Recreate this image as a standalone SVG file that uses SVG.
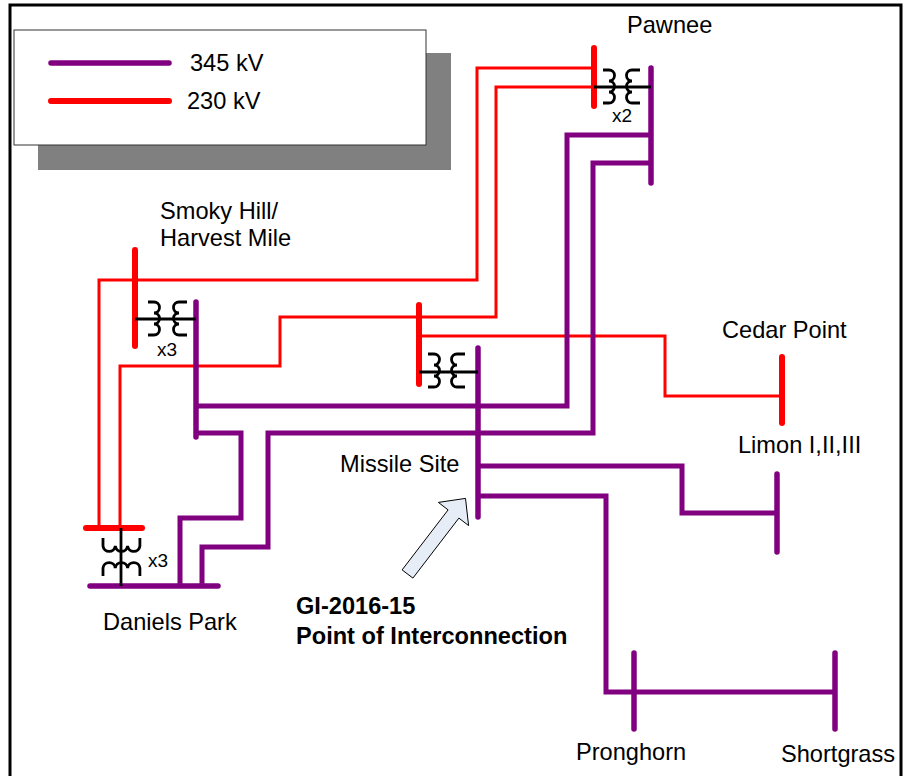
<svg xmlns="http://www.w3.org/2000/svg" width="903" height="776" viewBox="0 0 903 776">
<style>
text{font-family:"Liberation Sans",Arial,sans-serif;font-size:23.6px;fill:#000}
.b{font-weight:bold}
.sm{font-size:19px}
.p{fill:none;stroke:#800080;stroke-width:5;stroke-linejoin:miter}
.pb{fill:none;stroke:#800080;stroke-width:5.5;stroke-linecap:round}
.r{fill:none;stroke:#ff0000;stroke-width:3}
.rb{fill:none;stroke:#ff0000;stroke-width:6;stroke-linecap:round}
.k{fill:none;stroke:#000;stroke-width:2.8}
</style>
<rect x="0" y="0" width="903" height="776" fill="#fff"/>
<rect x="10" y="5" width="891" height="790" fill="none" stroke="#000" stroke-width="3"/>
<g id="legend">
<rect x="38" y="53" width="413" height="117" fill="#808080"/>
<rect x="14" y="30" width="412" height="115" fill="#fff" stroke="#333" stroke-width="1"/>
<line x1="51" y1="63" x2="169" y2="63" class="pb"/>
<line x1="51" y1="101" x2="169" y2="101" class="rb"/>
<text x="190" y="71">345 kV</text>
<text x="187" y="109">230 kV</text>
</g>
<g id="connectors">
<polyline class="r" points="594,68 477,68 477,280 99,280 99,528"/>
<polyline class="r" points="594,87 496,87 496,317 280,317 280,366 120,366 120,528"/>
<polyline class="r" points="420,336 665,336 665,396 782,396"/>
<polyline class="p" points="651,135 567,135 567,406 196,406"/>
<polyline class="p" points="651,163 593,163 593,433 268,433 268,547 202,547 202,586"/>
<polyline class="p" points="196,433 241,433 241,518 180,518 180,586"/>
<polyline class="p" points="478,466 682,466 682,513 777,513"/>
<polyline class="p" points="478,496 606,496 606,692 835,692"/>
</g>
<g id="pawnee">
<line x1="594" y1="48" x2="594" y2="106" class="rb"/>
<line x1="651" y1="68" x2="651" y2="183" class="pb"/>
<line x1="594" y1="87" x2="651" y2="87" class="k"/>
<path class="k" d="M603,70 h6 a5.5,5.5 0 0 1 0,11 a5.5,5.5 0 0 1 0,11 a5.5,5.5 0 0 1 0,11 h-6"/>
<path class="k" d="M640,70 h-8 a5.5,5.5 0 0 0 0,11 a5.5,5.5 0 0 0 0,11 a5.5,5.5 0 0 0 0,11 h8"/>
<text x="612" y="122" class="sm">x2</text>
<text x="627" y="33">Pawnee</text>
</g>
<g id="smoky-hill">
<line x1="135" y1="250" x2="135" y2="346" class="rb"/>
<line x1="196" y1="302" x2="196" y2="437" class="pb"/>
<line x1="135" y1="319" x2="196" y2="319" class="k"/>
<path class="k" d="M148,302 h6 a5.5,5.5 0 0 1 0,11 a5.5,5.5 0 0 1 0,11 a5.5,5.5 0 0 1 0,11 h-6"/>
<path class="k" d="M187,302 h-8 a5.5,5.5 0 0 0 0,11 a5.5,5.5 0 0 0 0,11 a5.5,5.5 0 0 0 0,11 h8"/>
<text x="157" y="356" class="sm">x3</text>
<text x="160" y="219">Smoky Hill/</text>
<text x="160" y="246">Harvest Mile</text>
</g>
<g id="missile-site">
<line x1="419" y1="305" x2="419" y2="384" class="rb"/>
<line x1="478" y1="348" x2="478" y2="517" class="pb"/>
<line x1="419" y1="372" x2="478" y2="372" class="k"/>
<path class="k" d="M428,354 h6 a5.5,5.5 0 0 1 0,11 a5.5,5.5 0 0 1 0,11 a5.5,5.5 0 0 1 0,11 h-6"/>
<path class="k" d="M465,354 h-8 a5.5,5.5 0 0 0 0,11 a5.5,5.5 0 0 0 0,11 a5.5,5.5 0 0 0 0,11 h8"/>
<text x="340" y="472">Missile Site</text>
</g>
<g id="daniels-park">
<line x1="86" y1="528" x2="142" y2="528" class="rb"/>
<line x1="90" y1="586" x2="218" y2="586" class="pb"/>
<line x1="121" y1="528" x2="121" y2="586" class="k"/>
<path class="k" d="M103,538 v8 a6.2,6.2 0 0 0 12.3,0 a6.2,6.2 0 0 0 12.3,0 a6.2,6.2 0 0 0 12.3,0 v-8"/>
<path class="k" d="M103,576 v-8 a6.2,6.2 0 0 1 12.3,0 a6.2,6.2 0 0 1 12.3,0 a6.2,6.2 0 0 1 12.3,0 v8"/>
<text x="148" y="567" class="sm">x3</text>
<text x="103" y="630">Daniels Park</text>
</g>
<g id="cedar-point">
<line x1="782" y1="357" x2="782" y2="423" class="rb"/>
<text x="722" y="338">Cedar Point</text>
</g>
<g id="limon">
<line x1="777" y1="474" x2="777" y2="552" class="pb"/>
<text x="738" y="453">Limon I,II,III</text>
</g>
<g id="pronghorn">
<line x1="634" y1="653" x2="634" y2="729" class="pb"/>
<text x="576" y="760">Pronghorn</text>
</g>
<g id="shortgrass">
<line x1="835" y1="653" x2="835" y2="729" class="pb"/>
<text x="781" y="762">Shortgrass</text>
</g>
<g id="poi">
<polygon points="402.1,569.9 448.1,509.9 438.4,502.4 465.5,498.4 468.6,525.6 458.9,518.1 412.9,578.1" fill="#e6edf7" stroke="#000" stroke-width="1"/>
<text x="296" y="614" class="b">GI-2016-15</text>
<text x="296" y="644" class="b">Point of Interconnection</text>
</g>
</svg>
